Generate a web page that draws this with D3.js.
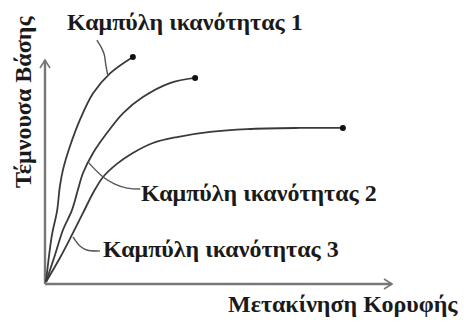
<!DOCTYPE html>
<html>
<head>
<meta charset="utf-8">
<script src="https://cdn.jsdelivr.net/npm/d3@7"></script>
<style>
  html, body { margin: 0; padding: 0; background: #fff; }
  svg { display: block; }
  text { font-family: "Liberation Serif", "DejaVu Serif", serif; font-weight: bold; fill: #1a1a1a; }
</style>
</head>
<body>
<svg id="chart" width="464" height="322"></svg>
<script>
// Capacity curves: base shear versus roof displacement (relative units 0-100)
const curveNames = ["Καμπύλη ικανότητας 1", "Καμπύλη ικανότητας 2", "Καμπύλη ικανότητας 3"];

const curve1X = [0, 1.7, 3.2, 4.0, 4.9, 6.9, 9.8, 13.6, 18.5, 25.1];
const curve1Y = [0, 21, 32, 43, 50.5, 61, 73, 85, 94, 101.4];

const curve2X = [0, 2.6, 4.9, 7.5, 9.2, 10.7, 13.6, 17.6, 22.3, 28.0, 35.8, 43.1];
const curve2Y = [0, 12.2, 23.4, 32.4, 41.4, 49.1, 58.1, 67.1, 76.1, 83.3, 89.6, 91.9];

const curve3X = [0, 4.0, 7.5, 10.7, 13.6, 16.5, 20.5, 25.1, 30.9, 37.9, 47.4, 58.1, 73.4, 85.8];
const curve3Y = [0, 10.8, 21.2, 31.1, 40.1, 47.3, 53.2, 58.1, 62.6, 65.3, 67.6, 68.9, 69.4, 69.4];

// Leader lines from each label to its curve
const leader1X = [14.7, 15.9, 16.8, 17.3, 17.9];
const leader1Y = [109, 105.9, 102.7, 97.7, 92.8];
const leader2X = [12.1, 16.5, 19.9, 23.4, 27.2];
const leader2Y = [54.1, 47.3, 44.1, 42.3, 41.9];
const leader3X = [7.8, 9.8, 11.8, 15.6];
const leader3Y = [20.3, 16.2, 14.4, 14.0];

const xAxisTitle = "Μετακίνηση Κορυφής";
const yAxisTitle = "Τέμνουσα Βάσης";
const axisMax = 100;

const svg = d3.select("#chart");
const x = d3.scaleLinear().domain([0, 100]).range([46, 392]);
const y = d3.scaleLinear().domain([0, 100]).range([282, 60]);

const zip = (xs, ys) => xs.map((v, i) => [v, ys[i]]);
const line = d3.line().x(d => x(d[0])).y(d => y(d[1])).curve(d3.curveCatmullRom.alpha(0.5));

// Axes with open arrowheads
const axisColor = "#777";
const axes = svg.append("g");
axes.append("line")
  .attr("x1", x(0) - 1).attr("y1", y(0) + 2)
  .attr("x2", x(axisMax)).attr("y2", y(0) + 2)
  .attr("stroke", axisColor).attr("stroke-width", 2.4);
axes.append("line")
  .attr("x1", x(0) - 1).attr("y1", y(0) + 2)
  .attr("x2", x(0) - 1).attr("y2", y(axisMax))
  .attr("stroke", axisColor).attr("stroke-width", 2.4);
axes.append("path")
  .attr("d", `M${x(axisMax) - 8},${y(0) + 2 - 5} L${x(axisMax)},${y(0) + 2} L${x(axisMax) - 8},${y(0) + 2 + 5}`)
  .attr("fill", "none").attr("stroke", axisColor).attr("stroke-width", 1.6);
axes.append("path")
  .attr("d", `M${x(0) - 1 - 5},${y(axisMax) + 8} L${x(0) - 1},${y(axisMax)} L${x(0) - 1 + 5},${y(axisMax) + 8}`)
  .attr("fill", "none").attr("stroke", axisColor).attr("stroke-width", 1.6);

// Curves with end markers
const curves = [zip(curve1X, curve1Y), zip(curve2X, curve2Y), zip(curve3X, curve3Y)];
const g = svg.append("g");
g.selectAll("path.curve").data(curves).join("path")
  .attr("class", "curve")
  .attr("d", line)
  .attr("fill", "none")
  .attr("stroke", "#3a3a3a")
  .attr("stroke-width", 1.8);
g.selectAll("circle.end").data(curves).join("circle")
  .attr("class", "end")
  .attr("cx", d => x(d[d.length - 1][0]))
  .attr("cy", d => y(d[d.length - 1][1]))
  .attr("r", 3)
  .attr("fill", "#111");

// Leaders
const leaders = [zip(leader1X, leader1Y), zip(leader2X, leader2Y), zip(leader3X, leader3Y)];
g.selectAll("path.leader").data(leaders).join("path")
  .attr("class", "leader")
  .attr("d", line)
  .attr("fill", "none")
  .attr("stroke", "#555")
  .attr("stroke-width", 1.4);

// Curve labels
const labelPos = [[67, 30], [141, 201], [103, 257]];
svg.selectAll("text.label").data(curveNames).join("text")
  .attr("class", "label")
  .attr("x", (d, i) => labelPos[i][0])
  .attr("y", (d, i) => labelPos[i][1])
  .attr("font-size", 24)
  .text(d => d);

// Axis titles
svg.append("text")
  .attr("x", 228).attr("y", 312)
  .attr("font-size", 24)
  .text(xAxisTitle);
svg.append("text")
  .attr("transform", "translate(31,188) rotate(-90)")
  .attr("font-size", 24)
  .text(yAxisTitle);
</script>
</body>
</html>
